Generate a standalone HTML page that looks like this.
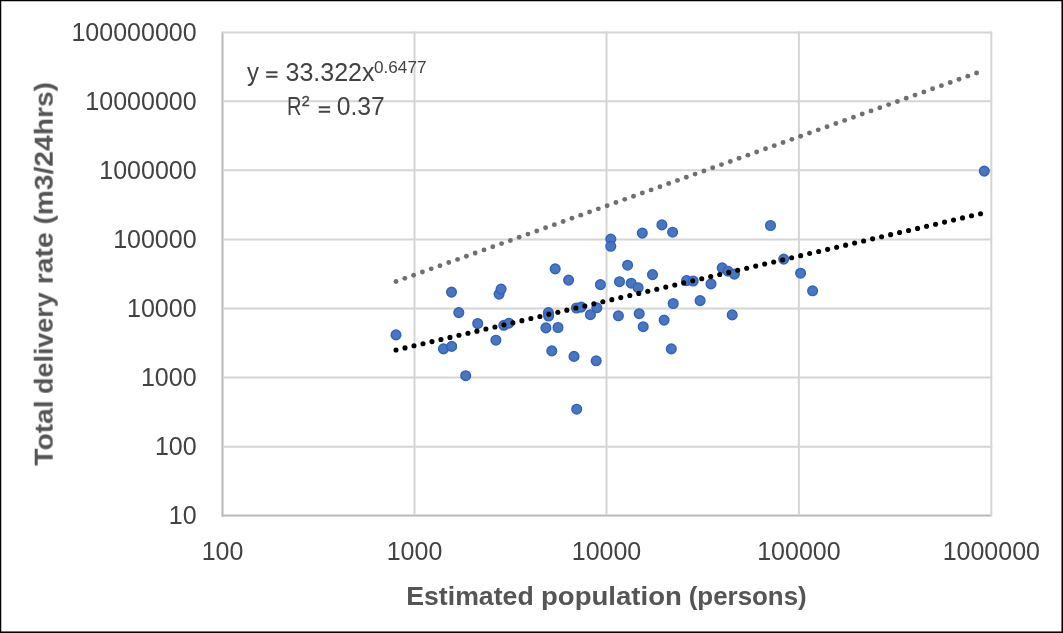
<!DOCTYPE html>
<html><head><meta charset="utf-8"><title>chart</title>
<style>
html,body{margin:0;padding:0;background:#fff;}
body{width:1063px;height:633px;overflow:hidden;font-family:"Liberation Sans",sans-serif;}
svg{display:block;position:absolute;left:0;top:0;}
text{font-family:"Liberation Sans",sans-serif;}
.tick{font-size:25px;fill:#414242;}
.ttl{font-size:25.4px;font-weight:bold;fill:#555555;}
.eq{font-size:25px;fill:#414242;}
</style></head><body>
<svg width="1063" height="633" viewBox="0 0 1063 633">
<defs><filter id="gs" x="0" y="0" width="1063" height="633" filterUnits="userSpaceOnUse" color-interpolation-filters="sRGB"><feColorMatrix type="saturate" values="0"/></filter></defs>
<rect x="0" y="0" width="1063" height="633" fill="#ffffff"/>

<g stroke="#b9b9b9" stroke-width="2" fill="none">
<line x1="222.50" y1="31.80" x2="222.50" y2="516.60"/>
<line x1="221.50" y1="515.60" x2="991.50" y2="515.60"/>
</g>
<g stroke="#d5d5d5" stroke-width="2" fill="none">
<line x1="221.90" y1="32.40" x2="992.30" y2="32.40"/>
<line x1="223.50" y1="101.20" x2="992.30" y2="101.20"/>
<line x1="223.50" y1="170.20" x2="992.30" y2="170.20"/>
<line x1="223.50" y1="239.40" x2="992.30" y2="239.40"/>
<line x1="223.50" y1="308.50" x2="992.30" y2="308.50"/>
<line x1="223.50" y1="377.60" x2="992.30" y2="377.60"/>
<line x1="223.50" y1="446.70" x2="992.30" y2="446.70"/>
<line x1="414.50" y1="31.40" x2="414.50" y2="514.60"/>
<line x1="606.50" y1="31.40" x2="606.50" y2="514.60"/>
<line x1="798.90" y1="31.40" x2="798.90" y2="514.60"/>
<line x1="991.30" y1="31.40" x2="991.30" y2="516.20"/>
</g>
<g fill="#4a75c1" stroke="#2f64bb" stroke-width="1.4">
<circle cx="396.0" cy="334.9" r="4.85"/>
<circle cx="443.5" cy="348.9" r="4.85"/>
<circle cx="451.7" cy="346.4" r="4.85"/>
<circle cx="451.5" cy="292.1" r="4.85"/>
<circle cx="458.8" cy="312.6" r="4.85"/>
<circle cx="465.7" cy="375.7" r="4.85"/>
<circle cx="477.7" cy="323.5" r="4.85"/>
<circle cx="495.9" cy="340.2" r="4.85"/>
<circle cx="499.1" cy="294.1" r="4.85"/>
<circle cx="501.1" cy="289.1" r="4.85"/>
<circle cx="503.8" cy="325.3" r="4.85"/>
<circle cx="508.9" cy="323.2" r="4.85"/>
<circle cx="545.9" cy="327.9" r="4.85"/>
<circle cx="548.4" cy="312.6" r="4.85"/>
<circle cx="548.6" cy="316.0" r="4.85"/>
<circle cx="551.8" cy="350.9" r="4.85"/>
<circle cx="555.2" cy="268.9" r="4.85"/>
<circle cx="558.0" cy="327.5" r="4.85"/>
<circle cx="568.6" cy="280.1" r="4.85"/>
<circle cx="574.0" cy="356.4" r="4.85"/>
<circle cx="576.7" cy="409.2" r="4.85"/>
<circle cx="576.4" cy="308.0" r="4.85"/>
<circle cx="581.2" cy="307.1" r="4.85"/>
<circle cx="590.4" cy="314.7" r="4.85"/>
<circle cx="596.2" cy="360.8" r="4.85"/>
<circle cx="596.8" cy="307.8" r="4.85"/>
<circle cx="600.4" cy="284.6" r="4.85"/>
<circle cx="610.8" cy="239.1" r="4.85"/>
<circle cx="610.8" cy="246.3" r="4.85"/>
<circle cx="619.5" cy="281.7" r="4.85"/>
<circle cx="618.4" cy="315.8" r="4.85"/>
<circle cx="627.6" cy="265.2" r="4.85"/>
<circle cx="631.2" cy="283.2" r="4.85"/>
<circle cx="638.1" cy="287.7" r="4.85"/>
<circle cx="639.2" cy="313.7" r="4.85"/>
<circle cx="642.3" cy="233.1" r="4.85"/>
<circle cx="643.2" cy="326.7" r="4.85"/>
<circle cx="652.5" cy="274.6" r="4.85"/>
<circle cx="661.9" cy="224.9" r="4.85"/>
<circle cx="664.1" cy="320.1" r="4.85"/>
<circle cx="671.3" cy="348.9" r="4.85"/>
<circle cx="672.6" cy="232.2" r="4.85"/>
<circle cx="673.2" cy="303.5" r="4.85"/>
<circle cx="686.6" cy="280.6" r="4.85"/>
<circle cx="693.2" cy="281.0" r="4.85"/>
<circle cx="700.1" cy="300.6" r="4.85"/>
<circle cx="711.0" cy="283.9" r="4.85"/>
<circle cx="722.2" cy="267.9" r="4.85"/>
<circle cx="728.0" cy="271.2" r="4.85"/>
<circle cx="734.4" cy="274.1" r="4.85"/>
<circle cx="732.2" cy="314.9" r="4.85"/>
<circle cx="770.5" cy="225.5" r="4.85"/>
<circle cx="783.7" cy="259.1" r="4.85"/>
<circle cx="800.6" cy="273.2" r="4.85"/>
<circle cx="812.6" cy="290.8" r="4.85"/>
<circle cx="984.3" cy="171.1" r="4.85"/>
</g>
<g fill="#6f6f6f">
<circle cx="396.00" cy="281.50" r="2.45"/>
<circle cx="404.80" cy="278.34" r="2.45"/>
<circle cx="413.59" cy="275.18" r="2.45"/>
<circle cx="422.39" cy="272.02" r="2.45"/>
<circle cx="431.19" cy="268.86" r="2.45"/>
<circle cx="439.98" cy="265.70" r="2.45"/>
<circle cx="448.78" cy="262.55" r="2.45"/>
<circle cx="457.58" cy="259.39" r="2.45"/>
<circle cx="466.38" cy="256.23" r="2.45"/>
<circle cx="475.17" cy="253.07" r="2.45"/>
<circle cx="483.97" cy="249.91" r="2.45"/>
<circle cx="492.77" cy="246.75" r="2.45"/>
<circle cx="501.56" cy="243.59" r="2.45"/>
<circle cx="510.36" cy="240.43" r="2.45"/>
<circle cx="519.16" cy="237.27" r="2.45"/>
<circle cx="527.95" cy="234.11" r="2.45"/>
<circle cx="536.75" cy="230.95" r="2.45"/>
<circle cx="545.55" cy="227.80" r="2.45"/>
<circle cx="554.35" cy="224.64" r="2.45"/>
<circle cx="563.14" cy="221.48" r="2.45"/>
<circle cx="571.94" cy="218.32" r="2.45"/>
<circle cx="580.74" cy="215.16" r="2.45"/>
<circle cx="589.53" cy="212.00" r="2.45"/>
<circle cx="598.33" cy="208.84" r="2.45"/>
<circle cx="607.13" cy="205.68" r="2.45"/>
<circle cx="615.92" cy="202.52" r="2.45"/>
<circle cx="624.72" cy="199.36" r="2.45"/>
<circle cx="633.52" cy="196.20" r="2.45"/>
<circle cx="642.32" cy="193.05" r="2.45"/>
<circle cx="651.11" cy="189.89" r="2.45"/>
<circle cx="659.91" cy="186.73" r="2.45"/>
<circle cx="668.71" cy="183.57" r="2.45"/>
<circle cx="677.50" cy="180.41" r="2.45"/>
<circle cx="686.30" cy="177.25" r="2.45"/>
<circle cx="695.10" cy="174.09" r="2.45"/>
<circle cx="703.89" cy="170.93" r="2.45"/>
<circle cx="712.69" cy="167.77" r="2.45"/>
<circle cx="721.49" cy="164.61" r="2.45"/>
<circle cx="730.28" cy="161.45" r="2.45"/>
<circle cx="739.08" cy="158.30" r="2.45"/>
<circle cx="747.88" cy="155.14" r="2.45"/>
<circle cx="756.68" cy="151.98" r="2.45"/>
<circle cx="765.47" cy="148.82" r="2.45"/>
<circle cx="774.27" cy="145.66" r="2.45"/>
<circle cx="783.07" cy="142.50" r="2.45"/>
<circle cx="791.86" cy="139.34" r="2.45"/>
<circle cx="800.66" cy="136.18" r="2.45"/>
<circle cx="809.46" cy="133.02" r="2.45"/>
<circle cx="818.25" cy="129.86" r="2.45"/>
<circle cx="827.05" cy="126.70" r="2.45"/>
<circle cx="835.85" cy="123.55" r="2.45"/>
<circle cx="844.65" cy="120.39" r="2.45"/>
<circle cx="853.44" cy="117.23" r="2.45"/>
<circle cx="862.24" cy="114.07" r="2.45"/>
<circle cx="871.04" cy="110.91" r="2.45"/>
<circle cx="879.83" cy="107.75" r="2.45"/>
<circle cx="888.63" cy="104.59" r="2.45"/>
<circle cx="897.43" cy="101.43" r="2.45"/>
<circle cx="906.22" cy="98.27" r="2.45"/>
<circle cx="915.02" cy="95.11" r="2.45"/>
<circle cx="923.82" cy="91.95" r="2.45"/>
<circle cx="932.62" cy="88.80" r="2.45"/>
<circle cx="941.41" cy="85.64" r="2.45"/>
<circle cx="950.21" cy="82.48" r="2.45"/>
<circle cx="959.01" cy="79.32" r="2.45"/>
<circle cx="967.80" cy="76.16" r="2.45"/>
<circle cx="976.60" cy="73.00" r="2.45"/>
</g>
<g fill="#000000">
<circle cx="396.00" cy="350.00" r="2.55"/>
<circle cx="404.99" cy="347.90" r="2.55"/>
<circle cx="413.98" cy="345.81" r="2.55"/>
<circle cx="422.98" cy="343.71" r="2.55"/>
<circle cx="431.97" cy="341.61" r="2.55"/>
<circle cx="440.96" cy="339.52" r="2.55"/>
<circle cx="449.95" cy="337.42" r="2.55"/>
<circle cx="458.95" cy="335.32" r="2.55"/>
<circle cx="467.94" cy="333.22" r="2.55"/>
<circle cx="476.93" cy="331.13" r="2.55"/>
<circle cx="485.92" cy="329.03" r="2.55"/>
<circle cx="494.92" cy="326.93" r="2.55"/>
<circle cx="503.91" cy="324.84" r="2.55"/>
<circle cx="512.90" cy="322.74" r="2.55"/>
<circle cx="521.89" cy="320.64" r="2.55"/>
<circle cx="530.88" cy="318.55" r="2.55"/>
<circle cx="539.88" cy="316.45" r="2.55"/>
<circle cx="548.87" cy="314.35" r="2.55"/>
<circle cx="557.86" cy="312.26" r="2.55"/>
<circle cx="566.85" cy="310.16" r="2.55"/>
<circle cx="575.85" cy="308.06" r="2.55"/>
<circle cx="584.84" cy="305.96" r="2.55"/>
<circle cx="593.83" cy="303.87" r="2.55"/>
<circle cx="602.82" cy="301.77" r="2.55"/>
<circle cx="611.82" cy="299.67" r="2.55"/>
<circle cx="620.81" cy="297.58" r="2.55"/>
<circle cx="629.80" cy="295.48" r="2.55"/>
<circle cx="638.79" cy="293.38" r="2.55"/>
<circle cx="647.78" cy="291.29" r="2.55"/>
<circle cx="656.78" cy="289.19" r="2.55"/>
<circle cx="665.77" cy="287.09" r="2.55"/>
<circle cx="674.76" cy="285.00" r="2.55"/>
<circle cx="683.75" cy="282.90" r="2.55"/>
<circle cx="692.75" cy="280.80" r="2.55"/>
<circle cx="701.74" cy="278.70" r="2.55"/>
<circle cx="710.73" cy="276.61" r="2.55"/>
<circle cx="719.72" cy="274.51" r="2.55"/>
<circle cx="728.72" cy="272.41" r="2.55"/>
<circle cx="737.71" cy="270.32" r="2.55"/>
<circle cx="746.70" cy="268.22" r="2.55"/>
<circle cx="755.69" cy="266.12" r="2.55"/>
<circle cx="764.68" cy="264.03" r="2.55"/>
<circle cx="773.68" cy="261.93" r="2.55"/>
<circle cx="782.67" cy="259.83" r="2.55"/>
<circle cx="791.66" cy="257.74" r="2.55"/>
<circle cx="800.65" cy="255.64" r="2.55"/>
<circle cx="809.65" cy="253.54" r="2.55"/>
<circle cx="818.64" cy="251.44" r="2.55"/>
<circle cx="827.63" cy="249.35" r="2.55"/>
<circle cx="836.62" cy="247.25" r="2.55"/>
<circle cx="845.62" cy="245.15" r="2.55"/>
<circle cx="854.61" cy="243.06" r="2.55"/>
<circle cx="863.60" cy="240.96" r="2.55"/>
<circle cx="872.59" cy="238.86" r="2.55"/>
<circle cx="881.58" cy="236.77" r="2.55"/>
<circle cx="890.58" cy="234.67" r="2.55"/>
<circle cx="899.57" cy="232.57" r="2.55"/>
<circle cx="908.56" cy="230.48" r="2.55"/>
<circle cx="917.55" cy="228.38" r="2.55"/>
<circle cx="926.55" cy="226.28" r="2.55"/>
<circle cx="935.54" cy="224.18" r="2.55"/>
<circle cx="944.53" cy="222.09" r="2.55"/>
<circle cx="953.52" cy="219.99" r="2.55"/>
<circle cx="962.52" cy="217.89" r="2.55"/>
<circle cx="971.51" cy="215.80" r="2.55"/>
<circle cx="980.50" cy="213.70" r="2.55"/>
</g>
<g filter="url(#gs)">
<text class="tick" x="196.6" y="41.00" text-anchor="end">100000000</text>
<text class="tick" x="196.6" y="109.80" text-anchor="end">10000000</text>
<text class="tick" x="196.6" y="178.80" text-anchor="end">1000000</text>
<text class="tick" x="196.6" y="248.00" text-anchor="end">100000</text>
<text class="tick" x="196.6" y="317.10" text-anchor="end">10000</text>
<text class="tick" x="196.6" y="386.20" text-anchor="end">1000</text>
<text class="tick" x="196.6" y="455.30" text-anchor="end">100</text>
<text class="tick" x="196.6" y="524.20" text-anchor="end">10</text>
<text class="tick" x="222.50" y="559.8" text-anchor="middle">100</text>
<text class="tick" x="414.50" y="559.8" text-anchor="middle">1000</text>
<text class="tick" x="606.50" y="559.8" text-anchor="middle">10000</text>
<text class="tick" x="798.90" y="559.8" text-anchor="middle">100000</text>
<text class="tick" x="991.30" y="559.8" text-anchor="middle">1000000</text>
<text class="ttl" x="406.23" y="605.2" textLength="127.47" lengthAdjust="spacingAndGlyphs">Estimated</text>
<text class="ttl" x="540.98" y="605.2" textLength="140.86" lengthAdjust="spacingAndGlyphs">population</text>
<text class="ttl" x="688.69" y="605.2" textLength="118.05" lengthAdjust="spacingAndGlyphs">(persons)</text>
<g transform="translate(52.7,465.7) rotate(-90)">
<text class="ttl" x="0.0" y="0" textLength="65.37" lengthAdjust="spacingAndGlyphs">Total</text>
<text class="ttl" x="71.86" y="0" textLength="101.47" lengthAdjust="spacingAndGlyphs">delivery</text>
<text class="ttl" x="181.63" y="0" textLength="51.87" lengthAdjust="spacingAndGlyphs">rate</text>
<text class="ttl" x="241.18" y="0" textLength="142.54" lengthAdjust="spacingAndGlyphs">(m3/24hrs)</text>
</g>
<text class="eq" x="246.9" y="81.2" style="font-size:25px" textLength="12.0" lengthAdjust="spacingAndGlyphs">y</text>
<text class="eq" x="285.5" y="81.2" style="font-size:25px" textLength="89.0" lengthAdjust="spacingAndGlyphs">33.322x</text>
<text class="eq" x="374.0" y="73.3" style="font-size:17.3px" textLength="52.5" lengthAdjust="spacingAndGlyphs">0.6477</text>
<text class="eq" x="287.0" y="114.8" style="font-size:25px" textLength="14.5" lengthAdjust="spacingAndGlyphs">R</text>
<text class="eq" x="301.8" y="105.9" stroke="#444" stroke-width="0.35" style="font-size:14.2px" textLength="8.0" lengthAdjust="spacingAndGlyphs">2</text>
<text class="eq" x="336.8" y="114.8" style="font-size:25px" textLength="48.0" lengthAdjust="spacingAndGlyphs">0.37</text>
<rect x="266.2" y="71.30" width="11.3" height="2" fill="#444"/><rect x="266.2" y="75.75" width="11.3" height="2" fill="#444"/>
<rect x="318.8" y="106.30" width="11.3" height="2" fill="#444"/><rect x="318.8" y="110.75" width="11.3" height="2" fill="#444"/>
</g>
<rect x="0" y="0" width="1063" height="1.25" fill="#000"/><rect x="0" y="0" width="1.25" height="633" fill="#000"/><rect x="0" y="631.45" width="1063" height="1.55" fill="#000"/><rect x="1061.45" y="0" width="1.55" height="633" fill="#000"/>
</svg></body></html>
